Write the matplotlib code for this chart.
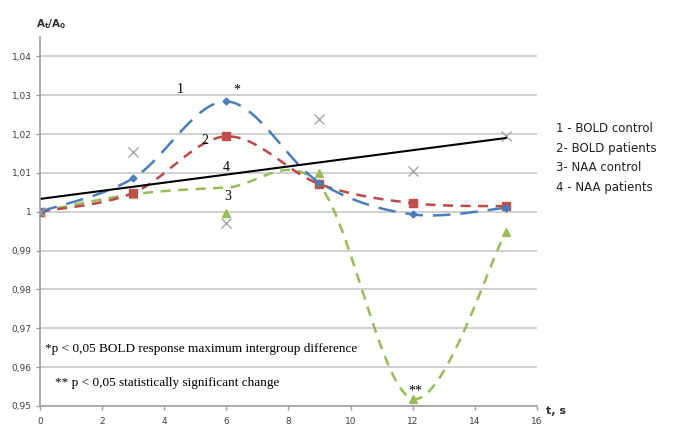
import numpy as np
import matplotlib
matplotlib.use("Agg")
from matplotlib import pyplot as plt

t = [0, 3, 6, 9, 12, 15]
bold_control = [1.0, 1.0086, 1.0284, 1.0075, 0.9993, 1.0010]
bold_patients = [1.0, 1.0048, 1.0194, 1.0071, 1.0022, 1.0014]
naa_control = [1.0, 1.0155, 0.9972, 1.0240, 1.0105, 1.0196]
naa_patients = [1.0, 1.0045, 0.9996, 1.0099, 0.9518, 0.9948]
naa_patients_curve = [1.0, 1.0045, 1.0062, 1.0068, 0.9518, 0.9948]

legend_lines = ["1 - BOLD control", "2- BOLD patients", "3- NAA control", "4 - NAA patients"]
yticks = [0.95, 0.96, 0.97, 0.98, 0.99, 1.0, 1.01, 1.02, 1.03, 1.04]
xticks = [0, 2, 4, 6, 8, 10, 12, 14, 16]


def smooth(x, y, n=30):
    # excel-like smoothed line (catmull-rom bezier)
    x = np.asarray(x, float)
    y = np.asarray(y, float)
    pts = np.column_stack([x, y])
    out = []
    for i in range(len(pts) - 1):
        p0 = pts[i - 1] if i > 0 else pts[i]
        p1 = pts[i]
        p2 = pts[i + 1]
        p3 = pts[i + 2] if i + 2 < len(pts) else pts[i + 1]
        c1 = p1 + (p2 - p0) / 6
        c2 = p2 - (p3 - p1) / 6
        s = np.linspace(0, 1, n)[:, None]
        seg = (1 - s) ** 3 * p1 + 3 * (1 - s) ** 2 * s * c1 + 3 * (1 - s) * s ** 2 * c2 + s ** 3 * p2
        out.append(seg)
    out = np.vstack(out)
    return out[:, 0], out[:, 1]


fig = plt.figure(figsize=(6.77, 4.25), dpi=100)
ax = fig.add_axes([0.059, 0.045, 0.734, 0.868])

blue = "#4a7ebb"
red = "#b84a47"
green = "#9bbb59"

ax.grid(axis="y", color="#c8c8c8", linewidth=1.2)
ax.set_axisbelow(True)

xs, ys = smooth(t, naa_patients_curve)
ax.plot(xs, ys, color=green, linewidth=1.8, dashes=(4, 3))
ax.plot(t, naa_patients, linestyle="none", marker="^", color=green, markersize=6)

xs, ys = smooth(t, bold_patients)
ax.plot(xs, ys, color=red, linewidth=1.8, dashes=(4, 3))
ax.plot(t, bold_patients, linestyle="none", marker="s", color="#c0504d", markersize=6)

xs, ys = smooth(t, bold_control)
ax.plot(xs, ys, color=blue, linewidth=1.8, dashes=(7, 4))
ax.plot(t, bold_control, linestyle="none", marker="D", color=blue, markersize=3.5)

ax.plot(t, naa_control, linestyle="none", marker="x", color="#a6a6a6", markersize=7, markeredgewidth=1)
k, b = np.polyfit(t, naa_control, 1)
ax.plot([t[0], t[-1]], [b + k * t[0], b + k * t[-1]], color="black", linewidth=1.5)

ax.set_xlim(0, 16)
ax.set_ylim(0.95, 1.045)
ax.set_xticks(xticks)
ax.set_yticks(yticks)
ax.set_xticklabels([str(v) for v in xticks])
ax.set_yticklabels([("%.2f" % v).replace(".", ",") if v != 1.0 else "1" for v in yticks])
ax.tick_params(axis="both", labelsize=6.5, colors="#404040", length=3, width=1)
ax.tick_params(axis="x", color="#a0a0a0", pad=5)
ax.tick_params(axis="y", color="#a0a0a0", pad=3)
for s in ["top", "right"]:
    ax.spines[s].set_visible(False)
ax.spines["left"].set_color("#a0a0a0")
ax.spines["bottom"].set_color("#a0a0a0")
ax.spines["left"].set_linewidth(1.2)
ax.spines["bottom"].set_linewidth(1.2)

serif = "Liberation Serif"
ax.text(4.4, 1.0305, "1", fontsize=10, family=serif)
ax.text(5.2, 1.0175, "2", fontsize=10, family=serif)
ax.text(5.9, 1.0105, "4", fontsize=10, family=serif)
ax.text(6.05, 1.0055, "3", fontsize=10, family=serif, ha="center", va="top")
ax.text(6.35, 1.0305, "*", fontsize=10, family=serif, ha="center")
ax.text(12.1, 0.953, "**", fontsize=10, family=serif, ha="center")

fig.text(0.066, 0.171, "*p < 0,05 BOLD response maximum intergroup difference", fontsize=9.5, family=serif)
fig.text(0.081, 0.091, "** p < 0,05 statistically significant change", fontsize=9.5, family=serif)

fig.text(0.053, 0.935, r"A$_\mathregular{t}$/A$_\mathregular{0}$", fontsize=7.5, fontweight="bold", color="#303030")
fig.text(0.806, 0.027, "t, s", fontsize=8, fontweight="bold", color="#303030")

for i, line in enumerate(legend_lines):
    fig.text(0.822, 0.69 - i * 0.0465, line, fontsize=8.5, family="DejaVu Sans", color="#202020")

fig.savefig("out.png", dpi=100)
